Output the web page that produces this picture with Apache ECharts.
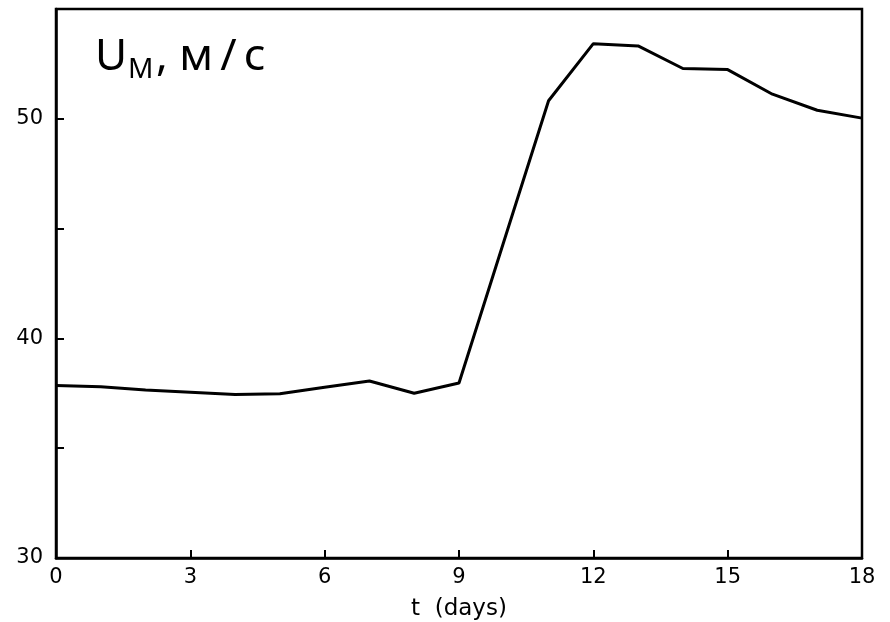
<!DOCTYPE html>
<html>

<head>
    <meta charset="utf-8" />
    <title>U_M</title>
    <script src="https://cdn.jsdelivr.net/npm/echarts@6.0.0/dist/echarts.min.js"></script>
    <style>
        html, body { margin: 0; padding: 0; background: #fff; }
        #main { width: 890px; height: 622px; }
    </style>
</head>

<body>
    <div id="main"></div>
    <script type="text/javascript">
        // values
        var days = [0, 1, 2, 3, 4, 5, 6, 7, 8, 9, 10, 11, 12, 13, 14, 15, 16, 17, 18];
        var speed = [37.86, 37.8, 37.65, 37.55, 37.45, 37.48, 37.78, 38.06, 37.5, 37.97,
            44.4, 50.82, 53.42, 53.32, 52.29, 52.24, 51.12, 50.39, 50.03];
        var xTicks = [0, 3, 6, 9, 12, 15, 18];
        var yLabels = [30, 40, 50];

        var myChart = echarts.init(document.getElementById('main'));
        var labelFont = { color: '#000', fontFamily: 'DejaVu Sans', fontSize: 21 };

        myChart.setOption({
            animation: false,
            grid: {
                left: 56, right: 28, top: 9, bottom: 64,
                outerBoundsMode: 'none', containLabel: false,
                show: true, borderColor: '#000', borderWidth: 2.5
            },
            graphic: [
                { type: 'text', left: 95, top: 35, style: { text: 'U', font: '44px "Noto Sans"', fill: '#000' } },
                { type: 'text', left: 128, top: 56, style: { text: 'М', font: '28px "Noto Sans"', fill: '#000' } },
                { type: 'text', left: 156, top: 35, style: { text: ', м\u2009/\u2009с', font: '44px "Noto Sans"', fill: '#000' } }
            ],
            xAxis: {
                type: 'value', min: 0, max: 18, interval: 3,
                name: 't  (days)', nameLocation: 'middle', nameGap: 40,
                nameTextStyle: { color: '#000', fontFamily: 'DejaVu Sans', fontSize: 23 },
                axisLine: { lineStyle: { color: '#000', width: 2.5 } },
                axisTick: { inside: true, length: 8, lineStyle: { color: '#000', width: 2 } },
                axisLabel: Object.assign({ margin: 9, formatter: function (v) { return xTicks.indexOf(v) >= 0 ? v : ''; } }, labelFont),
                splitLine: { show: false }
            },
            yAxis: {
                type: 'value', min: 30, max: 55, interval: 5,
                axisLine: { show: true, lineStyle: { color: '#000', width: 2.5 } },
                axisTick: { show: true, inside: true, length: 8, lineStyle: { color: '#000', width: 2 } },
                axisLabel: Object.assign({ margin: 13, formatter: function (v) { return yLabels.indexOf(v) >= 0 ? v : ''; } }, labelFont),
                splitLine: { show: false }
            },
            series: [
                {
                    type: 'line',
                    data: days.map(function (d, i) { return [d, speed[i]]; }),
                    showSymbol: false,
                    lineStyle: { color: '#000', width: 3 }
                }
            ]
        });
    </script>
</body>

</html>
